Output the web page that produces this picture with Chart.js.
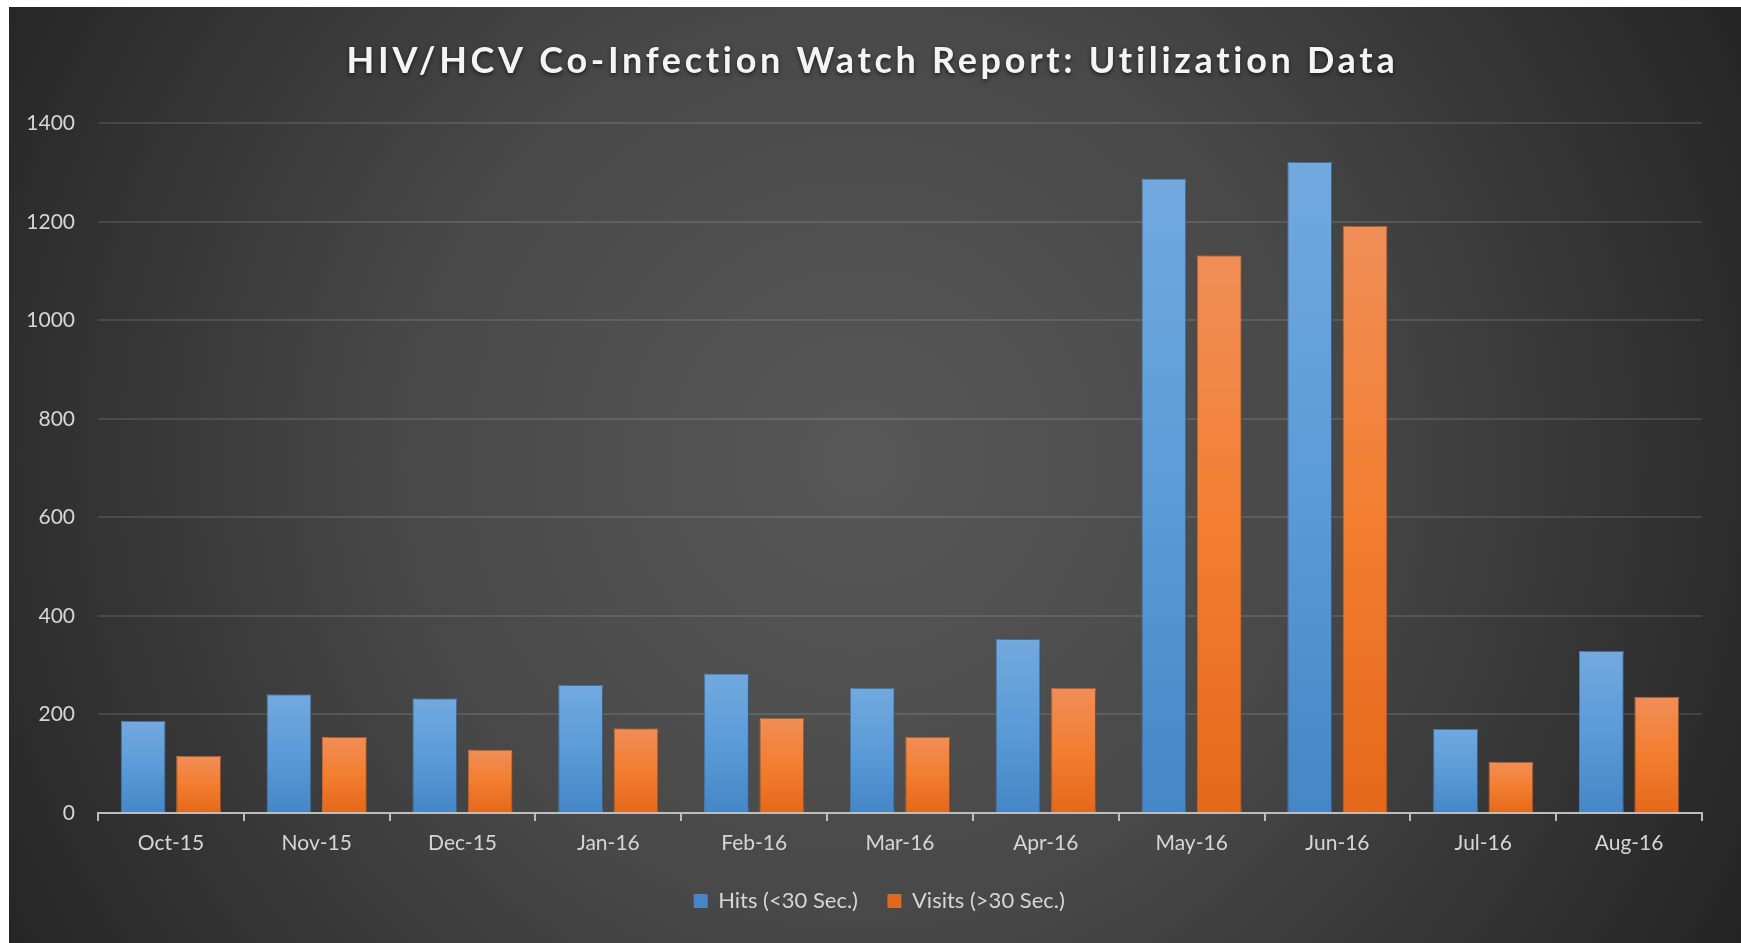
<!DOCTYPE html>
<html>
<head>
<meta charset="utf-8">
<title>HIV/HCV Co-Infection Watch Report: Utilization Data</title>
<script src="https://cdn.jsdelivr.net/npm/chart.js@4.4.1/dist/chart.umd.min.js"></script>
<style>
  html, body { margin: 0; padding: 0; background: #fff; }
  #wrap { width: 1741px; height: 943px; }
</style>
</head>
<body>
<div id="wrap"><canvas id="chart"></canvas></div>
<script>
// data
var months = ["Oct-15", "Nov-15", "Dec-15", "Jan-16", "Feb-16", "Mar-16", "Apr-16", "May-16", "Jun-16", "Jul-16", "Aug-16"];
var hits = [187, 241, 233, 260, 283, 254, 353, 1288, 1321, 171, 329];
var visits = [116, 154, 129, 172, 193, 155, 254, 1132, 1192, 104, 236];
var yTicks = [0, 200, 400, 600, 800, 1000, 1200, 1400];

var textColor = "#d6d6d6";
var fontFamily = "Lato, 'Open Sans', sans-serif";

// gradient for each bar, light at the top, darker at the base
function makeGrad(stops) {
  return function (c) {
    var chart = c.chart;
    if (!chart.chartArea || c.raw == null) return stops[1];
    var y = chart.scales.y;
    var y0 = y.getPixelForValue(c.raw);
    var y1 = y.getPixelForValue(0);
    if (!isFinite(y0) || !isFinite(y1) || y0 === y1) return stops[1];
    var g = chart.ctx.createLinearGradient(0, y0, 0, y1);
    g.addColorStop(0, stops[0]);
    g.addColorStop(0.5, stops[1]);
    g.addColorStop(1, stops[2]);
    return g;
  };
}

// wrap a layout box's draw so it can be nudged / styled
function wrapDraw(box, dx, setup) {
  if (!box || box._wrapped) return;
  var orig = box.draw.bind(box);
  box.draw = function () {
    var ctx = box.ctx;
    ctx.save();
    ctx.translate(dx, 0);
    if (setup) setup(ctx);
    orig();
    ctx.restore();
  };
  box._wrapped = true;
}

// dark radial backdrop plus the white strips at the top and left edge
var backdrop = {
  id: "backdrop",
  beforeDraw: function (chart) {
    var ctx = chart.ctx, w = chart.width, h = chart.height;
    ctx.save();
    ctx.fillStyle = "#ffffff";
    ctx.fillRect(0, 0, w, h);
    var g = ctx.createRadialGradient(860, 460, 20, 860, 460, 1000);
    g.addColorStop(0, "#575757");
    g.addColorStop(0.45, "#484848");
    g.addColorStop(1, "#242424");
    ctx.fillStyle = g;
    ctx.fillRect(9, 7, w - 9, h - 7);
    ctx.restore();
  },
  beforeDatasetsDraw: function (chart) {
    var ctx = chart.ctx;
    ctx.save();
    ctx.shadowColor = "rgba(0,0,0,0.45)";
    ctx.shadowBlur = 9;
    ctx.shadowOffsetX = 3;
    ctx.shadowOffsetY = 0;
  },
  afterDatasetsDraw: function (chart) {
    chart.ctx.restore();
  },
  afterLayout: function (chart) {
    // spaced-out title with a soft shadow
    wrapDraw(chart.titleBlock, 17, function (ctx) {
      ctx.letterSpacing = "3.7px";
      ctx.shadowColor = "rgba(0,0,0,0.6)";
      ctx.shadowBlur = 4;
      ctx.shadowOffsetY = 2;
    });
    wrapDraw(chart.legend, 24, null);
  }
};

var ctx = document.getElementById("chart");

var chart = new Chart(ctx, {
  type: "bar",
  data: {
    labels: months,
    datasets: [
      {
        label: "Hits (<30 Sec.)",
        data: hits,
        backgroundColor: makeGrad(["#72a9df", "#5b9bd8", "#4586c7"]),
        borderColor: "#4f87c0",
        borderWidth: 1,
        categoryPercentage: 0.76,
        barPercentage: 0.81
      },
      {
        label: "Visits (>30 Sec.)",
        data: visits,
        backgroundColor: makeGrad(["#f08e58", "#f37e30", "#e4681a"]),
        borderColor: "#d46f32",
        borderWidth: 1,
        categoryPercentage: 0.76,
        barPercentage: 0.81
      }
    ]
  },
  options: {
    responsive: true,
    maintainAspectRatio: false,
    animation: false,
    layout: {
      padding: { top: 7, left: 9, right: 39, bottom: 21 }
    },
    plugins: {
      title: {
        display: true,
        text: "HIV/HCV Co-Infection Watch Report: Utilization Data",
        color: "#f4f4f4",
        font: { family: fontFamily, size: 36, weight: "bold" },
        padding: { top: 33, bottom: 40 }
      },
      legend: {
        display: true,
        position: "bottom",
        labels: {
          color: textColor,
          font: { family: fontFamily, size: 22 },
          boxWidth: 13,
          boxHeight: 13,
          padding: 30
        }
      },
      tooltip: { enabled: false }
    },
    scales: {
      x: {
        grid: {
          display: true,
          drawOnChartArea: false,
          drawTicks: true,
          tickLength: 8,
          color: "#bdbdbd",
          lineWidth: 2,
          offset: true
        },
        border: { display: true, color: "#bdbdbd", width: 2 },
        ticks: {
          color: textColor,
          font: { family: fontFamily, size: 21 },
          padding: 10
        },
        afterFit: function (s) { s.height = 47; }
      },
      y: {
        min: 0,
        max: 1400,
        afterBuildTicks: function (s) {
          s.ticks = yTicks.map(function (v) { return { value: v }; });
        },
        grid: {
          color: "rgba(255,255,255,0.11)",
          lineWidth: 2,
          drawTicks: false
        },
        border: { display: false },
        ticks: {
          color: textColor,
          font: { family: fontFamily, size: 21 },
          padding: 23,
          callback: function (v) { return String(v); }
        },
        afterFit: function (s) { s.width = 89; }
      }
    }
  },
  plugins: [backdrop]
});
</script>
</body>
</html>
